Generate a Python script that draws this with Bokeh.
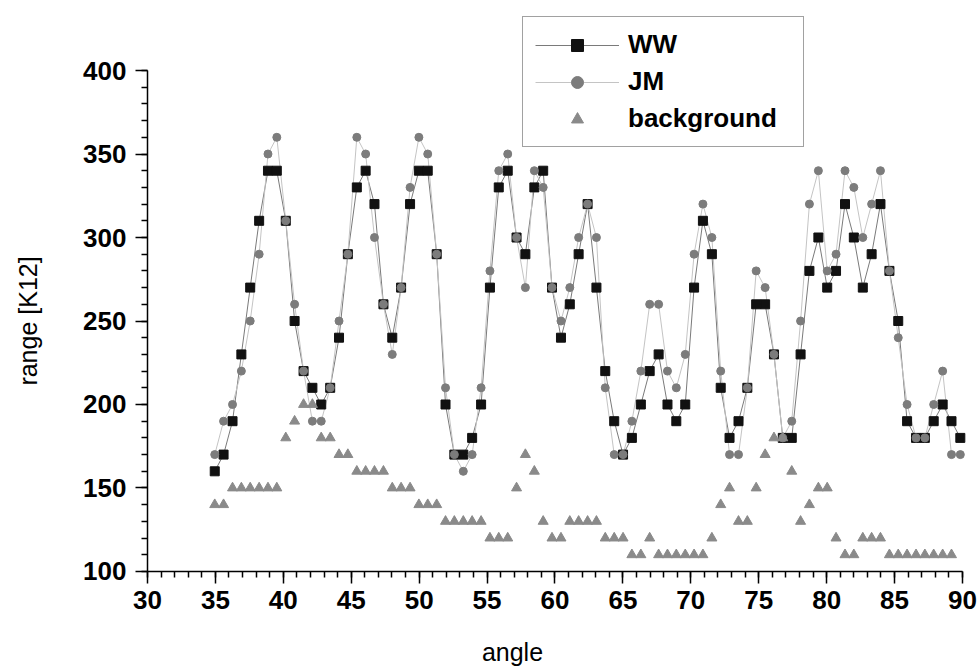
from bokeh.plotting import figure
from bokeh.models import Legend, LegendItem, SingleIntervalTicker, Label, Range1d
from bokeh.embed import file_html
from bokeh.resources import INLINE

nan = float("nan")

angle = [34.95, 35.60, 36.26, 36.91, 37.56, 38.22, 38.87, 39.52, 40.18, 40.83,
         41.49, 42.14, 42.79, 43.45, 44.10, 44.75, 45.41, 46.06, 46.71, 47.37,
         48.02, 48.67, 49.33, 49.98, 50.63, 51.29, 51.94, 52.59, 53.25, 53.90,
         54.56, 55.21, 55.86, 56.52, 57.17, 57.82, 58.48, 59.13, 59.78, 60.44,
         61.09, 61.74, 62.40, 63.05, 63.70, 64.36, 65.01, 65.66, 66.32, 66.97,
         67.63, 68.28, 68.93, 69.59, 70.24, 70.89, 71.55, 72.20, 72.85, 73.51,
         74.16, 74.81, 75.47, 76.12, 76.77, 77.43, 78.08, 78.73, 79.39, 80.04,
         80.69, 81.35, 82.00, 82.66, 83.31, 83.96, 84.62, 85.27, 85.92, 86.58,
         87.23, 87.88, 88.54, 89.19, 89.84]

ww = [160, 170, 190, 230, 270, 310, 340, 340, 310, 250,
      220, 210, 200, 210, 240, 290, 330, 340, 320, 260,
      240, 270, 320, 340, 340, 290, 200, 170, 170, 180,
      200, 270, 330, 340, 300, 290, 330, 340, 270, 240,
      260, 290, 320, 270, 220, 190, 170, 180, 200, 220,
      230, 200, 190, 200, 270, 310, 290, 210, 180, 190,
      210, 260, 260, 230, 180, 180, 230, 280, 300, 270,
      280, 320, 300, 270, 290, 320, 280, 250, 190, 180,
      180, 190, 200, 190, 180]

jm = [170, 190, 200, 220, 250, 290, 350, 360, 310, 260,
      220, 190, 190, 210, 250, 290, 360, 350, 300, 260,
      230, 270, 330, 360, 350, 290, 210, 170, 160, 170,
      210, 280, 340, 350, 300, 270, 340, 330, 270, 250,
      270, 300, 320, 300, 210, 170, 170, 190, 220, 260,
      260, 220, 210, 230, 290, 320, 300, 220, 170, 170,
      210, 280, 270, 230, 180, 190, 250, 320, 340, 280,
      290, 340, 330, 300, 320, 340, 280, 240, 200, 180,
      180, 200, 220, 170, 170]

background = [140, 140, 150, 150, 150, 150, 150, 150, 180, 190,
              200, 200, 180, 180, 170, 170, 160, 160, 160, 160,
              150, 150, 150, 140, 140, 140, 130, 130, 130, 130,
              130, 120, 120, 120, 150, 170, 160, 130, 120, 120,
              130, 130, 130, 130, 120, 120, 120, 110, 110, 120,
              110, 110, 110, 110, 110, 110, 120, 140, 150, 130,
              130, 150, 170, 180, 180, 160, 130, 140, 150, 150,
              120, 110, 110, 120, 120, 120, 110, 110, 110, 110,
              110, 110, 110, 110, nan]

x_ticks_interval = 5
y_ticks_interval = 50

FONT = "Liberation Sans"

# frame spans the whole canvas; axes are pinned at x=30 / y=100
p = figure(width=978, height=666, x_range=Range1d(19.178, 91.178), y_range=Range1d(43.11, 441.92),
           output_backend="svg", toolbar_location=None, title=None,
           min_border_left=0, min_border_right=0, min_border_top=0, min_border_bottom=0)
p.outline_line_color = None
p.xgrid.visible = False
p.ygrid.visible = False
p.background_fill_color = "white"
p.border_fill_color = "white"

ww_line = p.line(angle, ww, line_color="#7a7a7a", line_width=1)
jm_line = p.line(angle, jm, line_color="#c4c4c4", line_width=1)
ww_pts = p.scatter(angle, ww, marker="square", size=9, fill_color="#111111", line_color="#111111")
jm_pts = p.scatter(angle, jm, marker="circle", size=8, fill_color="#7c7c7c", line_color="#7c7c7c")
bg_pts = p.scatter(angle, background, marker="triangle", size=10, fill_color="#8a8a8a", line_color="#8a8a8a")

xax = p.xaxis[0]
yax = p.yaxis[0]
xax.fixed_location = 100
yax.fixed_location = 30
xax.bounds = (30, 90)
yax.bounds = (100, 400)

for ax in (xax, yax):
    ax.axis_line_color = "black"
    ax.axis_line_width = 1.5
    ax.major_tick_line_color = "black"
    ax.minor_tick_line_color = "black"
    ax.major_tick_line_width = 1.5
    ax.minor_tick_line_width = 1.5
    ax.major_tick_in = 0
    ax.major_tick_out = 12
    ax.minor_tick_in = 0
    ax.minor_tick_out = 6
    ax.major_label_text_font = FONT
    ax.major_label_text_font_size = "26px"
    ax.major_label_text_font_style = "bold"
    ax.major_label_text_color = "black"

xax.ticker = SingleIntervalTicker(interval=x_ticks_interval, num_minor_ticks=5)
yax.ticker = SingleIntervalTicker(interval=y_ticks_interval, num_minor_ticks=5)
xax.major_label_standoff = 8
yax.major_label_standoff = 9

yax.axis_label = "range [K12]"
yax.axis_label_text_font = FONT
yax.axis_label_text_font_size = "25px"
yax.axis_label_text_font_style = "normal"
yax.axis_label_text_color = "black"
yax.axis_label_standoff = 38

xlabel = Label(x=56.87, y=51.5, x_units="data", y_units="data", text="angle",
               text_align="center", text_baseline="middle", text_font=FONT,
               text_font_size="25px", text_color="black")
p.add_layout(xlabel)

legend = Legend(items=[
    LegendItem(label="WW", renderers=[ww_line, ww_pts]),
    LegendItem(label="JM", renderers=[jm_line, jm_pts]),
    LegendItem(label="background", renderers=[bg_pts]),
], location=(522, 519))
legend.label_text_font = FONT
legend.label_text_font_size = "26px"
legend.label_text_font_style = "bold"
legend.label_text_color = "black"
legend.border_line_color = "#444444"
legend.border_line_width = 1
legend.background_fill_color = "white"
legend.background_fill_alpha = 1
legend.glyph_width = 84
legend.glyph_height = 30
legend.label_height = 30
legend.label_width = 163
legend.spacing = 6
legend.padding = 12
legend.label_standoff = 9
legend.margin = 0
p.add_layout(legend)

open("out.html", "w").write(file_html(p, INLINE))
